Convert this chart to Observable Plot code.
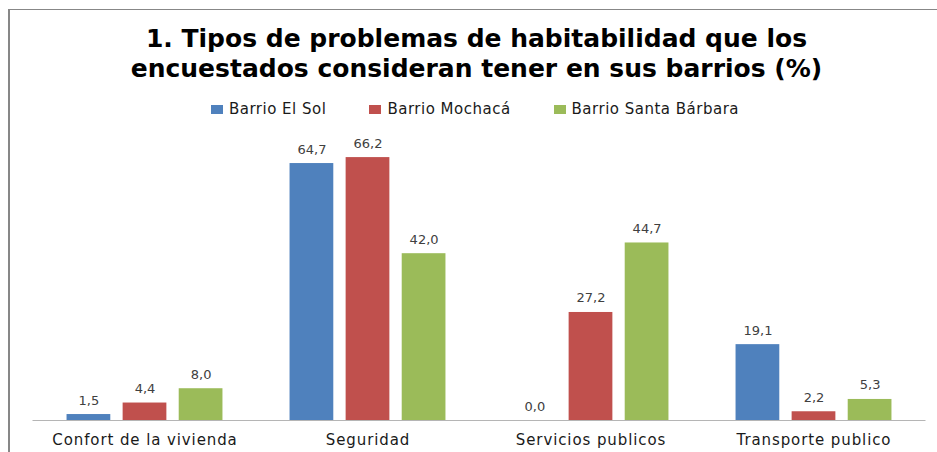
<!DOCTYPE html>
<html>
<head>
<meta charset="utf-8">
<script src="https://cdn.jsdelivr.net/npm/d3@7"></script>
<script src="https://cdn.jsdelivr.net/npm/@observablehq/plot@0.6"></script>
<style>
  html, body { margin: 0; padding: 0; background: #fff; }
  body { width: 937px; height: 452px; overflow: hidden; position: relative; font-family: "DejaVu Sans", sans-serif; }
  #frame { position: absolute; left: 8px; top: 9px; width: 1000px; height: 1000px;
           border-left: 2px solid #878787; border-top: 1.5px solid #878787; pointer-events: none; }
  #title { position: absolute; left: 0; top: 24px; width: 953px; text-align: center;
           font-weight: bold; font-size: 25px; line-height: 30px; color: #000; }
  #legend { position: absolute; left: 0; top: 99px; width: 950px; display: flex; justify-content: center; gap: 43px;
            font-size: 15px; line-height: 20px; color: #1a1a1a; letter-spacing: 0.5px; }
  .item { display: flex; align-items: center; }
  .sw { width: 12px; height: 9px; margin-right: 6px; }
  #chart { position: absolute; left: 0; top: 125px; }
</style>
</head>
<body>
<div id="title">1. Tipos de problemas de habitabilidad que los<br>encuestados consideran tener en sus barrios (%)</div>
<div id="legend"></div>
<div id="chart"></div>
<div id="frame"></div>
<script>
const categories = ["Confort de la vivienda", "Seguridad", "Servicios publicos", "Transporte publico"];
const series = ["Barrio El Sol", "Barrio Mochacá", "Barrio Santa Bárbara"];
const elSol = [1.5, 64.7, 0.0, 19.1];
const mochaca = [4.4, 66.2, 27.2, 2.2];
const santaBarbara = [8.0, 42.0, 44.7, 5.3];
const colors = ["#4f81bd", "#c0504d", "#9bbb59"];

const values = [elSol, mochaca, santaBarbara];
const data = [];
series.forEach((s, i) => categories.forEach((c, j) => data.push({series: s, category: c, value: values[i][j]})));

// legend
const legend = document.getElementById("legend");
series.forEach((s, i) => {
  const it = document.createElement("div");
  it.className = "item";
  it.innerHTML = `<span class="sw" style="background:${colors[i]}"></span><span>${s}</span>`;
  legend.appendChild(it);
});

const W = 937, H = 327, mL = 32.5, mR = 11.5;
const band = (W - mL - mR) / categories.length;
const step = band * 0.2512;
const barW = 44;
const inset = (band - barW) / 2;
const fmt = v => v.toFixed(1).replace(".", ",");

const marks = [];
series.forEach((s, i) => {
  const sub = data.filter(d => d.series === s);
  marks.push(Plot.barY(sub, {x: "category", y: "value", fill: colors[i], insetLeft: inset, insetRight: inset, dx: (i - 1) * step}));
});
marks.push(Plot.ruleY([0], {stroke: "#b5b5b5", strokeWidth: 1}));
series.forEach((s, i) => {
  const sub = data.filter(d => d.series === s);
  marks.push(Plot.text(sub, {x: "category", y: "value", text: d => fmt(d.value), dx: (i - 1) * step, dy: -10,
    lineAnchor: "bottom", fontSize: 13, fill: "#404040"}));
});

const chart = Plot.plot({
  width: W, height: H,
  marginTop: 17, marginBottom: 32, marginLeft: mL, marginRight: mR,
  x: {domain: categories, padding: 0, tickSize: 0, tickPadding: 14, label: null},
  y: {domain: [0, 70], axis: null},
  style: {fontFamily: "DejaVu Sans", fontSize: "15px", color: "#1a1a1a", background: "transparent", overflow: "visible"},
  marks
});
chart.querySelectorAll('[aria-label="x-axis tick label"] text').forEach(t => t.style.letterSpacing = "0.9px");
document.getElementById("chart").appendChild(chart);
</script>
</body>
</html>
